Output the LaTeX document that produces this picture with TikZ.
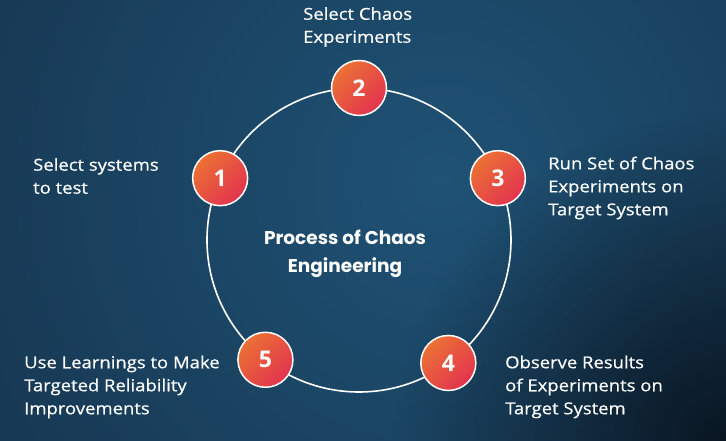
\documentclass[tikz,border=0pt]{standalone}
\usepackage{fontspec}
\setmainfont{Open Sans}
\newfontfamily\lblfont{Open Sans}[FakeStretch=1.12, FakeBold=0.5]
\newfontfamily\titlefont{Poppins}
\usepackage{xcolor}
\usetikzlibrary{fadings}
\definecolor{bgdark}{HTML}{132B42}
\definecolor{bglight}{HTML}{1F5275}
\definecolor{bgdeep}{HTML}{08121C}
\definecolor{numorange}{HTML}{EC7134}
\definecolor{numred}{HTML}{E2334F}
\definecolor{txt}{HTML}{FFFFFF}
\tikzfading[name=cornerfade, inner color=transparent!0, outer color=transparent!100]
\tikzset{
  ring/.style={draw=white, line width=1.6pt},
  num/.style={circle, minimum size=55pt, inner sep=0pt, draw=white, line width=1.5pt,
    top color=numorange, bottom color=numred, shading angle=45,
    text=txt, font=\fontsize{23}{23}\selectfont\bfseries},
  lbl/.style={text=txt, align=left, anchor=west, inner sep=0pt,
    font=\lblfont\fontsize{16.5}{23}\selectfont},
  ttl/.style={text=txt, align=center, inner sep=0pt,
    font=\titlefont\fontsize{18.5}{28}\selectfont\bfseries}
}
\begin{document}
\begin{tikzpicture}[x=1pt, y=1pt]
\useasboundingbox (0,0) rectangle (726,441);
% background
\begin{scope}
\clip (0,0) rectangle (726,441);
\fill[bgdark] (0,0) rectangle (726,441);
\shade[inner color=bglight, outer color=bgdark] (440,260) circle (760);
\fill[bgdeep, path fading=cornerfade, opacity=0.9] (726,0) circle (330);
\end{scope}
% ring and steps
\coordinate (ctr) at (359,201);
\draw[ring] (ctr) circle (152);
\path (ctr) ++(156:152) node[num] (n1) {1};
\path (ctr) ++(90:152) node[num] (n2) {2};
\path (ctr) ++(24:152) node[num] (n3) {3};
\path (ctr) ++(-54:152) node[num] (n4) {4};
\path (ctr) ++(-128:152) node[num] (n5) {5};
% labels
\node[ttl] (title) at (345,187) {Process of Chaos\\Engineering};
\node[lbl] (l1) at (33,265) {Select systems\\to test};
\node[lbl] (l2) at (303,414) {Select Chaos\\Experiments};
\node[lbl] (l3) at (548,253) {Run Set of Chaos\\Experiments on\\Target System};
\node[lbl] (l4) at (505,54) {Observe Results\\of Experiments on\\Target System};
\node[lbl] (l5) at (24,54) {Use Learnings to Make\\Targeted Reliability\\Improvements};
\end{tikzpicture}
\end{document}
